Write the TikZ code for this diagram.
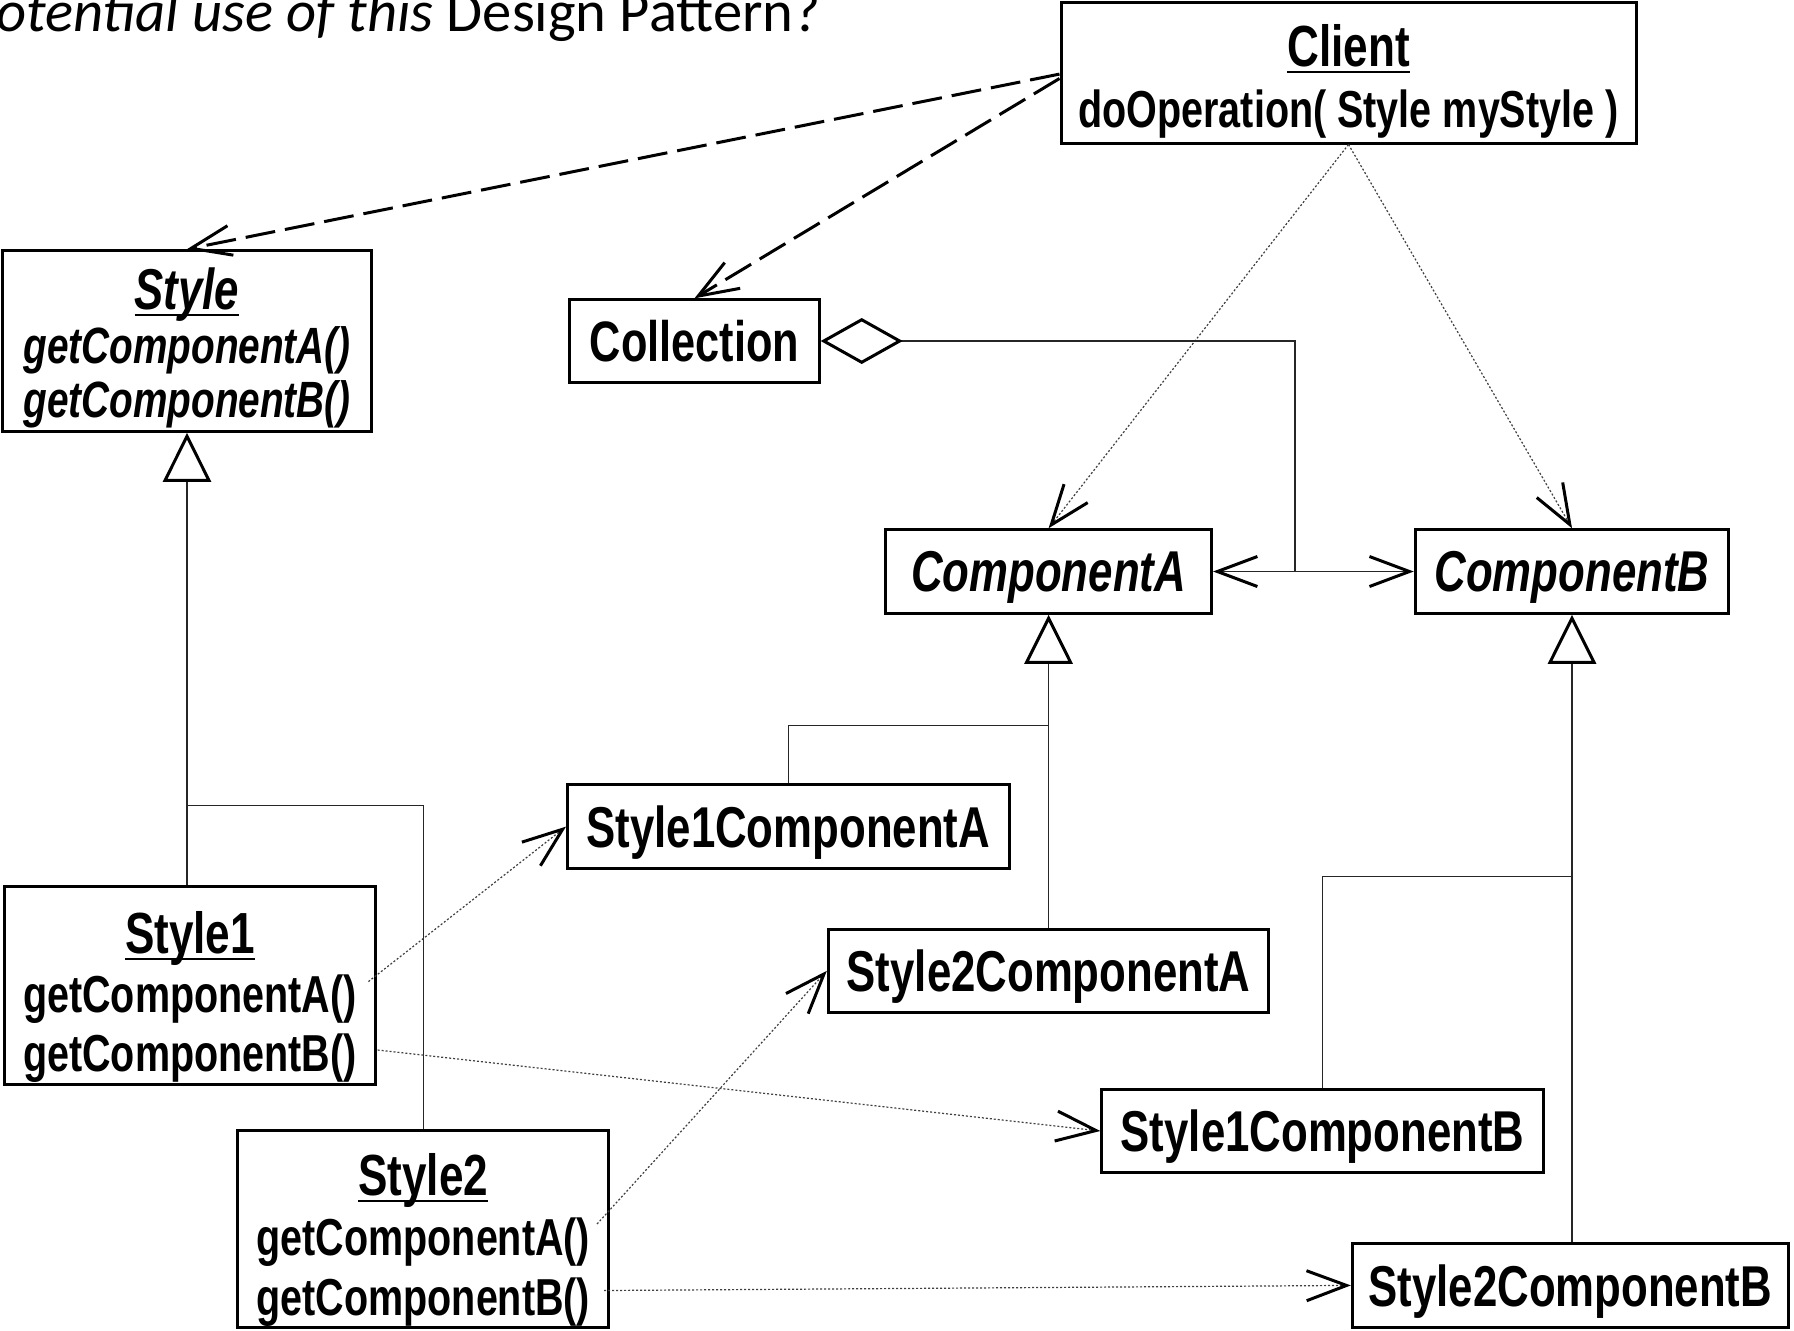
\documentclass[tikz,border=0pt]{standalone}
\usepackage{fontspec}
\setmainfont{Liberation Sans}[FakeStretch=0.76]
\newfontfamily\notefont{Carlito}
\usetikzlibrary{arrows.meta}

% underlined class name with a heavy rule
\newcommand\uln[1]{\setbox0\hbox{#1}\rlap{\rule[-3.3pt]{\wd0}{1.25pt}}\box0}
% size of the operation lines
\newcommand\mthd{\fontsize{26}{29.5}\selectfont}
\newcommand\amthd{\fontsize{25.5}{27}\selectfont}

\tikzset{
  box/.style={draw, line width=1.5pt, inner sep=0pt},
  cls/.style={box, align=center, text depth=0pt,
    font=\bfseries\fontsize{28.8}{29.5}\selectfont},
  abs/.style={cls, font=\bfseries\itshape\fontsize{28.8}{29.5}\selectfont},
  clstext/.style={inner sep=0pt, align=center,
    font=\bfseries\fontsize{29}{29.5}\selectfont},
  barb/.tip={Straight Barb[length=20pt, width=15pt, line width=1.5pt, color=black]},
  dep/.style={line width=1.5pt, dash pattern=on 15pt off 5pt, -barb},
  use/.style={line width=0.6pt, draw=black!75, dash pattern=on 1pt off 1pt, -barb},
  thinline/.style={line width=0.6pt, draw=black!85},
  gen/.style={thinline, -{Triangle[open, length=24.5pt, width=24pt, line width=1.5pt, color=black]}},
  assoc/.style={thinline, -barb},
  agg/.style={thinline, {Diamond[open, length=41pt, width=23pt, line width=1.5pt, color=black]}-},
}

\begin{document}
\begin{tikzpicture}[x=0.5pt, y=-0.5pt]
\useasboundingbox (0,0) rectangle (1794,1330);
\clip (0,0) rectangle (1794,1330);
\fill[white] (0,0) rectangle (1794,1330);

% heading line running off the top edge
\node[anchor=base east, inner sep=0pt, font=\notefont\fontsize{29.3}{30}\selectfont] (note)
  at (821,31) {\textit{otential use of this} Design Pattern?};

% classes with compartments of operations
\node[box, minimum width=287.5pt, minimum height=70.5pt] (client) at (1348.5,72.5) {};
\node[clstext, font=\bfseries\fontsize{29}{30.5}\selectfont] (client-text) at (1348.5,81.5)
  {\uln{Client}\\\mthd doOperation( Style myStyle )};

\node[box, minimum width=184.75pt, minimum height=90.35pt] (style) at (187,341) {};
\node[clstext, font=\bfseries\itshape\fontsize{28.8}{27}\selectfont] (style-text) at (187,348)
  {\uln{Style}\\\amthd getComponentA()\\\amthd getComponentB()};

\node[box, minimum width=185.35pt, minimum height=98.95pt] (style1) at (190,985.6) {};
\node[clstext] (style1-text) at (190,997)
  {\uln{Style1}\\\mthd getComponentA()\\\mthd getComponentB()};

\node[box, minimum width=185.35pt, minimum height=98.4pt] (style2) at (423.3,1228.8) {};
\node[clstext, font=\bfseries\fontsize{29}{30}\selectfont] (style2-text) at (423.3,1240)
  {\uln{Style2}\\\mthd getComponentA()\\\mthd getComponentB()};

% single-name classes
\node[cls, font=\bfseries\fontsize{28.5}{30}\selectfont, minimum width=124.7pt, minimum height=41.2pt] (collection) at (694.5,341)
  {Collection};
\node[abs, minimum width=163pt, minimum height=41.75pt] (compA) at (1048.6,571.5) {ComponentA};
\node[abs, minimum width=156.75pt, minimum height=41.75pt] (compB) at (1572,571.5) {ComponentB};
\node[cls, minimum width=220.8pt, minimum height=41.75pt] (s1ca) at (788.3,826.6) {Style1ComponentA};
\node[cls, minimum width=220.25pt, minimum height=41.75pt] (s2ca) at (1048.6,970.8) {Style2ComponentA};
\node[cls, minimum width=220.8pt, minimum height=41.75pt] (s1cb) at (1322.6,1131) {Style1ComponentB};
\node[cls, minimum width=217.95pt, minimum height=41.75pt] (s2cb) at (1570.3,1285.4) {Style2ComponentB};

% ends of the operation lines and junctions
\coordinate (s1a) at (368.4,981.6);
\coordinate (s1b) at (377.6,1050);
\coordinate (s2a) at (597,1224);
\coordinate (s2b) at (604,1290.5);
\coordinate (jS) at (187,805.5);
\coordinate (jA) at (1048.6,725.4);
\coordinate (jB) at (1572,876.4);
\coordinate (aggc) at (1295,571.5);

% client dependencies
\draw[dep] ([yshift=-0.8pt]client.west) -- (style.north);
\draw[dep] ([yshift=-3pt]client.west) -- (collection.north);
\draw[use] (client.south) -- (compA.north);
\draw[use] (client.south) -- (compB.north);

% aggregation from the collection
\draw[agg] (collection.east) -| (aggc);
\draw[assoc] (aggc) -- (compA.east);
\draw[assoc] (aggc) -- (compB.west);

% inheritance
\draw[gen] (style1.north -| style.south) -- (style.south);
\draw[thinline] (jS) -| (style2.north);
\draw[gen] (s2ca.north) -- (compA.south);
\draw[thinline] (jA) -| (s1ca.north);
\draw[gen] (s2cb.north -| compB.south) -- (compB.south);
\draw[thinline] (jB) -| (s1cb.north);

% factory methods
\draw[use] (s1a) -- (s1ca.west);
\draw[use] (s1b) -- (s1cb.west);
\draw[use] (s2a) -- (s2ca.west);
\draw[use] (s2b) -- (s2cb.west);
\end{tikzpicture}
\end{document}
